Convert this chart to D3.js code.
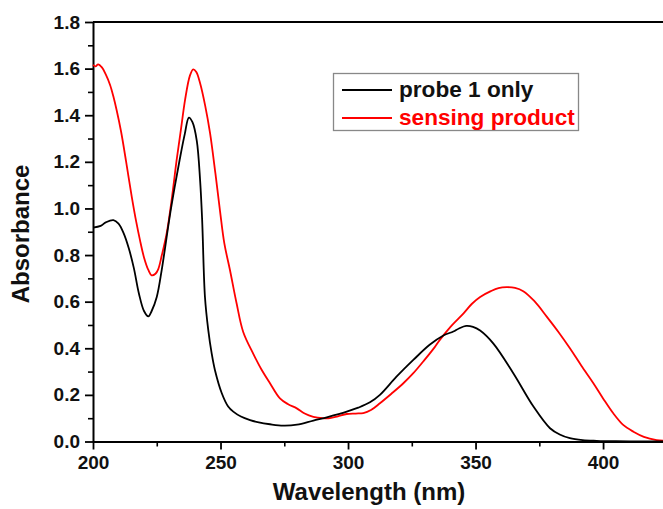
<!DOCTYPE html>
<html>
<head>
<meta charset="utf-8">
<script src="https://cdn.jsdelivr.net/npm/d3@7/dist/d3.min.js"></script>
<style>
  body { margin: 0; background: #fff; }
  svg { display: block; font-family: "Liberation Sans", Arial, sans-serif; font-weight: bold; }
</style>
</head>
<body>
<div id="chart"></div>
<script>
// probe 1 only (black)
const probeWl = [200, 203, 205, 208, 210, 212, 214, 216, 218, 220, 221.7, 223, 225, 227, 230, 232, 234, 236, 237.6,
  239, 240.7, 242, 242.8, 243.9, 245.2, 246.5, 247.8, 250.5, 253, 255, 258, 261.6, 265, 269.4, 274.6, 280, 286.4,
  292, 299.5, 304, 308.6, 312.5, 319, 325.6, 332, 337.4, 341.3, 343.5, 346.3, 349, 351.8, 357, 364.8, 372.7,
  379.2, 383, 387, 392, 397.5, 405, 415, 424];
const probeAbs = [0.918, 0.925, 0.94, 0.95, 0.935, 0.894, 0.83, 0.745, 0.635, 0.56, 0.537, 0.56, 0.62, 0.74, 0.96,
  1.09, 1.21, 1.32, 1.39, 1.37, 1.29, 1.12, 0.95, 0.62, 0.478, 0.38, 0.307, 0.207, 0.15, 0.128, 0.107, 0.092,
  0.082, 0.074, 0.068, 0.072, 0.09, 0.105, 0.128, 0.145, 0.168, 0.2, 0.278, 0.35, 0.415, 0.455, 0.472, 0.485,
  0.496, 0.492, 0.476, 0.42, 0.293, 0.15, 0.057, 0.03, 0.014, 0.006, 0.003, 0.001, 0, 0];

// sensing product (red)
const productWl = [200, 201, 202, 203.5, 205, 206.7, 208, 209.3, 211, 213, 215.2, 217, 218.4, 220, 221.7, 223,
  224.5, 225.6, 227, 228.9, 231, 232.8, 234.5, 236.1, 238, 239.3, 240.5, 242, 244, 245.9, 248, 249.8, 251.5,
  253.7, 256.3, 258.9, 262.9, 266, 269.4, 273.3, 276.5, 279.9, 283, 286.4, 290, 292.9, 296, 299.5, 303,
  306, 309, 312.5, 317, 321.7, 325.6, 330, 334, 336, 340, 345.3, 348.5, 351.8, 356, 359, 362.2, 365.5, 368.7,
  373, 377.9, 382.5, 387, 391.5, 396.2, 400, 404, 408, 411.9, 416, 421, 424];
const productAbs = [1.616, 1.61, 1.618, 1.605, 1.575, 1.53, 1.48, 1.42, 1.33, 1.2, 1.05, 0.94, 0.865, 0.79, 0.736,
  0.713, 0.72, 0.74, 0.8, 0.894, 1.05, 1.208, 1.34, 1.466, 1.57, 1.597, 1.585, 1.537, 1.44, 1.323, 1.15, 0.99,
  0.85, 0.736, 0.593, 0.47, 0.375, 0.31, 0.25, 0.185, 0.16, 0.142, 0.12, 0.106, 0.1, 0.1, 0.108, 0.118,
  0.12, 0.122, 0.135, 0.164, 0.205, 0.25, 0.293, 0.35, 0.405, 0.436, 0.49, 0.55, 0.59, 0.62, 0.645, 0.658,
  0.662, 0.659, 0.645, 0.603, 0.536, 0.47, 0.4, 0.325, 0.25, 0.185, 0.121, 0.07, 0.042, 0.02, 0.006, 0.003];

const xTicks = [200, 250, 300, 350, 400];
const yTicks = [0.0, 0.2, 0.4, 0.6, 0.8, 1.0, 1.2, 1.4, 1.6, 1.8];
const seriesNames = ["probe 1 only", "sensing product"];
const seriesColors = ["#000000", "#ff0000"];

const width = 663, height = 509;
const margin = {top: 22, right: 0, bottom: 67.5, left: 93};

const svg = d3.select("#chart").append("svg")
    .attr("width", width)
    .attr("height", height);

const x = d3.scaleLinear()
    .domain([200, 423.5])
    .range([margin.left, width - margin.right]);
const y = d3.scaleLinear()
    .domain([0, 1.8])
    .range([height - margin.bottom, margin.top]);

// minor ticks
svg.append("g")
    .attr("transform", `translate(0,${y(0)})`)
    .call(d3.axisBottom(x).tickValues([225, 275, 325, 375]).tickSize(5).tickFormat(""))
    .call(g => g.select(".domain").remove())
    .call(g => g.selectAll("line").attr("stroke-width", 1.6));
svg.append("g")
    .attr("transform", `translate(${x(200)},0)`)
    .call(d3.axisLeft(y).tickValues(d3.range(0.1, 1.8, 0.2)).tickSize(5).tickFormat(""))
    .call(g => g.select(".domain").remove())
    .call(g => g.selectAll("line").attr("stroke-width", 1.6));

// major axes
const xAxis = svg.append("g")
    .attr("transform", `translate(0,${y(0)})`)
    .call(d3.axisBottom(x).tickValues(xTicks).tickSize(8).tickSizeOuter(0).tickPadding(6).tickFormat(d3.format("d")));
const yAxis = svg.append("g")
    .attr("transform", `translate(${x(200)},0)`)
    .call(d3.axisLeft(y).tickValues(yTicks).tickSize(8).tickSizeOuter(0).tickPadding(5).tickFormat(d3.format(".1f")));

[xAxis, yAxis].forEach(g => {
  g.select(".domain").attr("stroke-width", 2);
  g.selectAll(".tick line").attr("stroke-width", 1.8);
  g.selectAll("text")
    .attr("font-size", 19)
    .attr("font-weight", "bold")
    .attr("font-family", "Liberation Sans, Arial, sans-serif")
    .attr("fill", "#111");
});

// top frame line
svg.append("line")
    .attr("x1", x(200)).attr("x2", width)
    .attr("y1", y(1.8)).attr("y2", y(1.8))
    .attr("stroke", "#000").attr("stroke-width", 2);

const line = d3.line()
    .x(d => x(d[0]))
    .y(d => y(d[1]))
    .curve(d3.curveCatmullRom.alpha(0.5));

svg.append("path")
    .datum(d3.zip(productWl, productAbs))
    .attr("fill", "none")
    .attr("stroke", seriesColors[1])
    .attr("stroke-width", 1.8)
    .attr("d", line);

svg.append("path")
    .datum(d3.zip(probeWl, probeAbs))
    .attr("fill", "none")
    .attr("stroke", seriesColors[0])
    .attr("stroke-width", 1.8)
    .attr("d", line);

// axis titles
svg.append("text")
    .attr("x", 369)
    .attr("y", 500)
    .attr("text-anchor", "middle")
    .attr("font-size", 24)
    .attr("fill", "#111")
    .text("Wavelength (nm)");

svg.append("text")
    .attr("transform", "translate(29,234) rotate(-90)")
    .attr("text-anchor", "middle")
    .attr("font-size", 24)
    .attr("fill", "#111")
    .text("Absorbance");

// legend
const legend = svg.append("g");
legend.append("rect")
    .attr("x", 333.5).attr("y", 73.5)
    .attr("width", 245).attr("height", 57)
    .attr("fill", "#fff")
    .attr("stroke", "#888")
    .attr("stroke-width", 1.3);

seriesNames.forEach((name, i) => {
  const cy = 90 + i * 28;
  legend.append("line")
      .attr("x1", 342).attr("x2", 392)
      .attr("y1", cy).attr("y2", cy)
      .attr("stroke", seriesColors[i])
      .attr("stroke-width", 1.8);
  legend.append("text")
      .attr("x", 399)
      .attr("y", cy + 7)
      .attr("font-size", 22.6)
      .attr("fill", i === 0 ? "#111" : seriesColors[i])
      .text(name);
});
</script>
</body>
</html>
